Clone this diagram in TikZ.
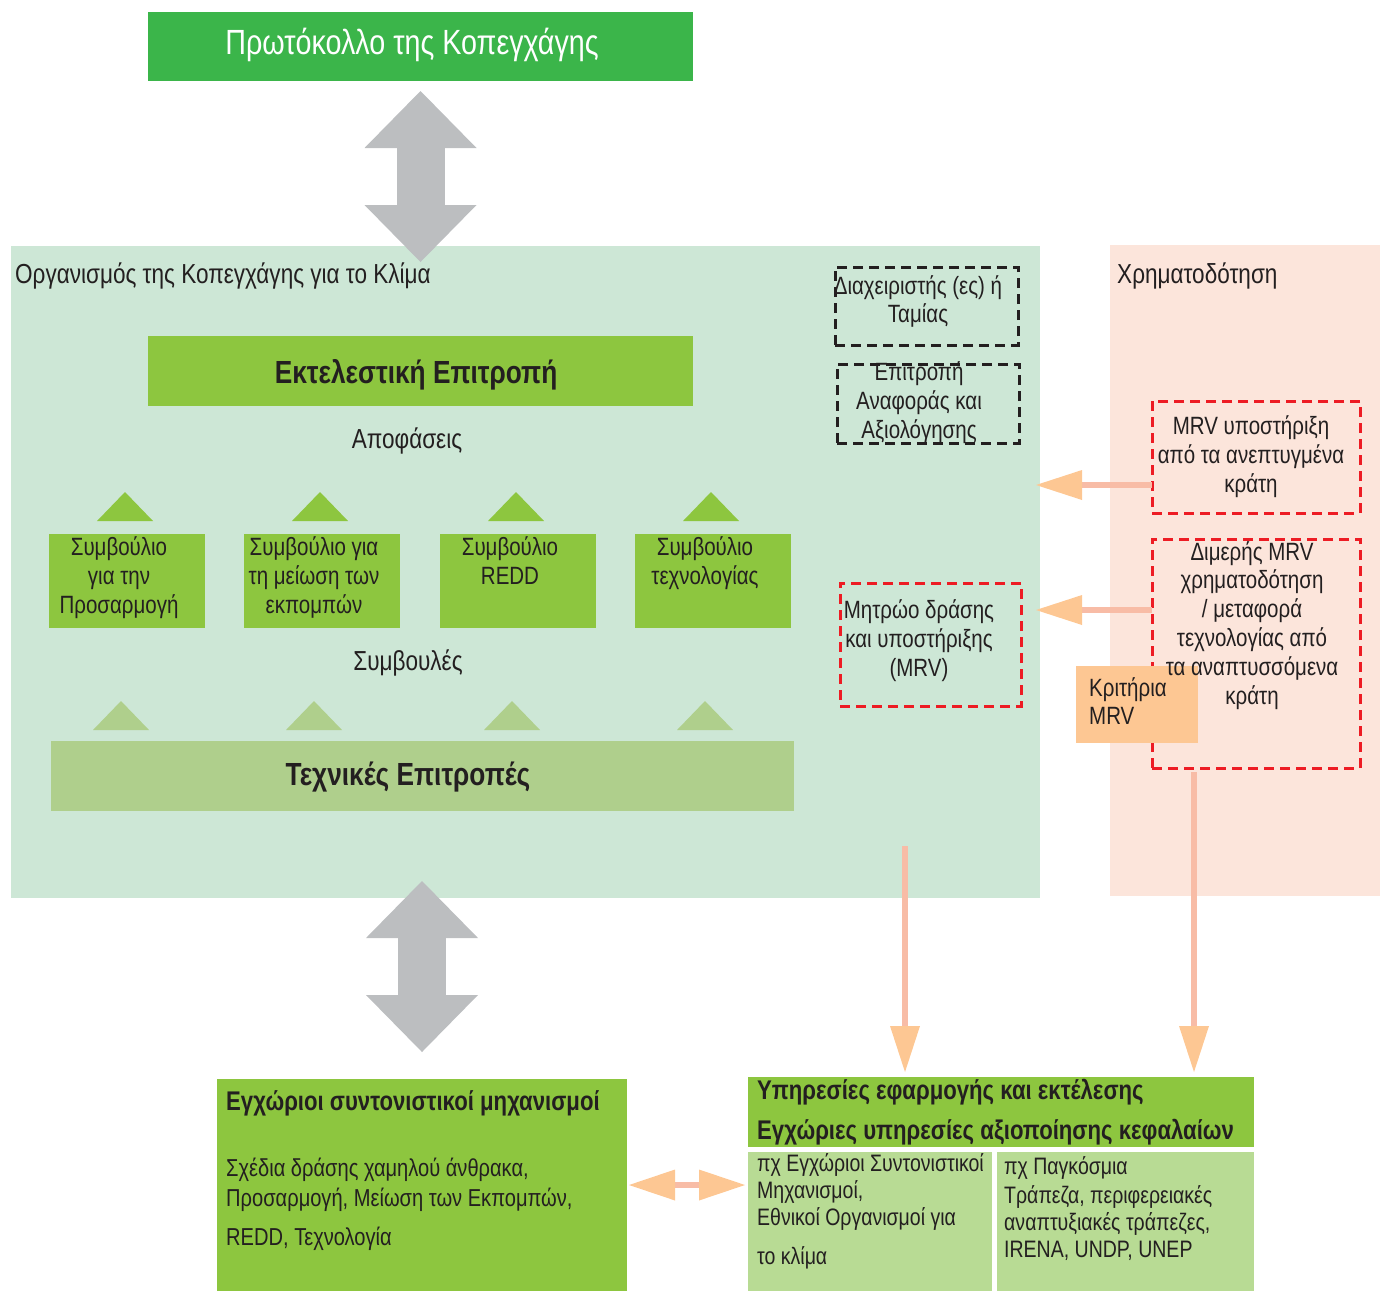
\documentclass[tikz,border=0pt]{standalone}
\usepackage{fontspec}
\setmainfont{Liberation Sans}[FakeStretch=0.82]
\usetikzlibrary{arrows.meta}

\definecolor{protogreen}{HTML}{3BB54A}
\definecolor{leafgreen}{HTML}{8DC63F}
\definecolor{sagegreen}{HTML}{AFCF8C}
\definecolor{palegreen}{HTML}{B8DB94}
\definecolor{orgbg}{HTML}{CDE7D6}
\definecolor{fundbg}{HTML}{FCE5DB}
\definecolor{peach}{HTML}{FDC793}
\definecolor{salmon}{HTML}{F8BCA6}
\definecolor{arrowgrey}{HTML}{BCBEC0}
\definecolor{dashred}{HTML}{ED1C24}
\definecolor{ink}{HTML}{231F20}

\newcommand{\bodyfont}{\fontsize{25}{29}\selectfont}
\newcommand{\bigfont}{\fontsize{27.5}{31}\selectfont}
\newcommand{\smallfont}{\fontsize{23.8}{27}\selectfont}
\newcommand{\headfont}{\fontsize{32}{36}\selectfont\bfseries}
\newcommand{\subheadfont}{\fontsize{27}{40}\selectfont\bfseries}

\tikzset{
  panel/.style={anchor=north west, inner sep=0pt, outer sep=0pt},
  lbl/.style={anchor=base, inner sep=0pt, text=ink, font=\bodyfont, align=center},
  lblleft/.style={lbl, anchor=base west, align=left},
  blackdash/.style={panel, draw=ink, line width=3pt, dash pattern=on 10pt off 6pt},
  reddash/.style={panel, draw=dashred, line width=3pt, dash pattern=on 10pt off 6pt},
  bigarrow/.style={arrowgrey, line width=48pt, {Triangle[length=57pt, width=112pt, line width=0pt]}-{Triangle[length=57pt, width=112pt, line width=0pt]}},
  flowarrow/.style={salmon, line width=6pt, -{Triangle[length=46pt, width=30pt, line width=0pt, color=peach]}},
  flowboth/.style={salmon, line width=6pt, {Triangle[length=46pt, width=31pt, line width=0pt, color=peach]}-{Triangle[length=46pt, width=31pt, line width=0pt, color=peach]}}
}

\begin{document}
\begin{tikzpicture}[x=1pt, y=-1pt]
  \useasboundingbox (0,0) rectangle (1380,1291);

  % background regions
  \node[panel, fill=orgbg, minimum width=1029pt, minimum height=652pt] (org) at (11,246) {};
  \node[panel, fill=fundbg, minimum width=270pt, minimum height=651pt] (fund) at (1110,245) {};
  \node[lblleft, font=\bigfont] (orglbl) at (15,283) {Οργανισμός της Κοπεγχάγης για το Κλίμα};
  \node[lblleft, font=\bigfont] (fundlbl) at (1117,283) {Χρηματοδότηση};

  % protocol
  \node[panel, fill=protogreen, minimum width=545pt, minimum height=69pt] (proto) at (148,12) {};
  \node[lbl, text=white, font=\fontsize{35}{40}\selectfont] (protolbl) at (412,54) {Πρωτόκολλο της Κοπεγχάγης};

  % executive committee
  \node[panel, fill=leafgreen, minimum width=545pt, minimum height=70pt] (exec) at (148,336) {};
  \node[lbl, font=\headfont] (execlbl) at (416,383) {Εκτελεστική Επιτροπή};
  \node[lbl, font=\bigfont] (decisions) at (407,448) {Αποφάσεις};

  % councils (last baseline given)
  \foreach \x/\y/\name/\txt in {49/613/adapt/{Συμβούλιο\\για την\\Προσαρμογή},
                                244/613/mitig/{Συμβούλιο για\\τη μείωση των\\εκπομπών},
                                440/584/redd/{Συμβούλιο\\REDD},
                                635/584/techn/{Συμβούλιο\\τεχνολογίας}}{
    \path[fill=leafgreen] (\x+48,521) -- (\x+76,492) -- (\x+104,521) -- cycle;
    \node[panel, fill=leafgreen, minimum width=156pt, minimum height=94pt] (\name) at (\x,534) {};
    \node[lbl] (\name lbl) at (\x+70,\y) {\txt};
  }
  \node[lbl, font=\bigfont] (advice) at (408,670) {Συμβουλές};

  % technical committees
  \foreach \x in {121,314,512,705}
    \path[fill=sagegreen] (\x-28,730) -- (\x,701) -- (\x+28,730) -- cycle;
  \node[panel, fill=sagegreen, minimum width=743pt, minimum height=70pt] (tech) at (51,741) {};
  \node[lbl, font=\headfont] (techlbl) at (408,785) {Τεχνικές Επιτροπές};

  % trustee and review
  \node[blackdash, minimum width=183pt, minimum height=78pt] (trustee) at (835,267) {};
  \node[lbl, font=\fontsize{25}{28}\selectfont] (trusteelbl) at (918,322) {Διαχειριστής (ες) ή\\Ταμίας};
  \node[blackdash, minimum width=182pt, minimum height=79pt] (review) at (837,364) {};
  \node[lbl] (reviewlbl) at (919,438) {Επιτροπή\\Αναφοράς και\\Αξιολόγησης};

  % registry
  \node[reddash, minimum width=181pt, minimum height=123pt] (registry) at (840,583) {};
  \node[lbl] (registrylbl) at (919,676) {Μητρώο δράσης\\και υποστήριξης\\(MRV)};

  % finance boxes
  \node[reddash, minimum width=208pt, minimum height=112pt] (support) at (1152,401) {};
  \node[lbl] (supportlbl) at (1251,492) {MRV υποστήριξη\\από τα ανεπτυγμένα\\κράτη};
  \node[reddash, minimum width=208pt, minimum height=229pt] (bilat) at (1152,539) {};
  \node[panel, fill=peach, minimum width=122pt, minimum height=77pt] (criteria) at (1076,666) {};
  \node[lblleft, font=\fontsize{25}{28}\selectfont] (criterialbl) at (1089,724) {Κριτήρια\\MRV};
  \node[lbl, font=\fontsize{25}{28.8}\selectfont] (bilatlbl) at (1252,704) {Διμερής MRV\\χρηματοδότηση\\/ μεταφορά\\τεχνολογίας από\\τα αναπτυσσόμενα\\κράτη};

  % national level
  \node[panel, fill=leafgreen, minimum width=410pt, minimum height=212pt] (local) at (217,1079) {};
  \node[lblleft, font=\subheadfont] (locallbl) at (226,1110) {Εγχώριοι συντονιστικοί μηχανισμοί};
  \node[lblleft, font=\fontsize{24.5}{30}\selectfont] (localtxt) at (226,1245) {Σχέδια δράσης χαμηλού άνθρακα,\\Προσαρμογή, Μείωση των Εκπομπών,\\[9pt]REDD, Τεχνολογία};

  \node[panel, fill=leafgreen, minimum width=506pt, minimum height=70pt] (impl) at (748,1077) {};
  \node[lblleft, font=\subheadfont] (impllbl) at (757,1139) {Υπηρεσίες εφαρμογής και εκτέλεσης\\Εγχώριες υπηρεσίες αξιοποίησης κεφαλαίων};
  \node[panel, fill=palegreen, minimum width=244pt, minimum height=139pt] (natl) at (748,1152) {};
  \node[lblleft, font=\smallfont] (natltxt) at (757,1264) {πχ Εγχώριοι Συντονιστικοί\\Μηχανισμοί,\\Εθνικοί Οργανισμοί για\\[12pt]το κλίμα};
  \node[panel, fill=palegreen, minimum width=257pt, minimum height=139pt] (intl) at (997,1152) {};
  \node[lblleft, font=\smallfont] (intltxt) at (1004,1257) {πχ Παγκόσμια\\[2pt]Τράπεζα, περιφερειακές\\αναπτυξιακές τράπεζες,\\IRENA, UNDP, UNEP};

  % grey exchange arrows
  \draw[bigarrow, shorten <=10pt, shorten >=-16pt] (proto.south) -- (proto.south |- org.north);
  \draw[bigarrow, shorten <=-17pt, shorten >=27pt] (org.south -| local.north) -- (local.north);

  % finance flows
  \coordinate (s1) at ([yshift=-28pt]support.west);
  \coordinate (s2) at ([yshift=43.5pt]bilat.west);
  \draw[flowarrow, shorten >=-4pt] (s1) -- (s1 -| org.east);
  \draw[flowarrow, shorten >=-4pt] (s2) -- (s2 -| org.east);
  \coordinate (d1) at (905,846);
  \draw[flowarrow, shorten >=5pt] (d1) -- (d1 |- impl.north);
  \draw[flowarrow, shorten <=4pt, shorten >=5pt] ([xshift=-62pt]bilat.south) -- ([xshift=-62pt]bilat.south |- impl.north);
  \draw[flowboth, shorten <=2pt, shorten >=3pt] (local.east) -- (local.east -| natl.west);
\end{tikzpicture}
\end{document}
